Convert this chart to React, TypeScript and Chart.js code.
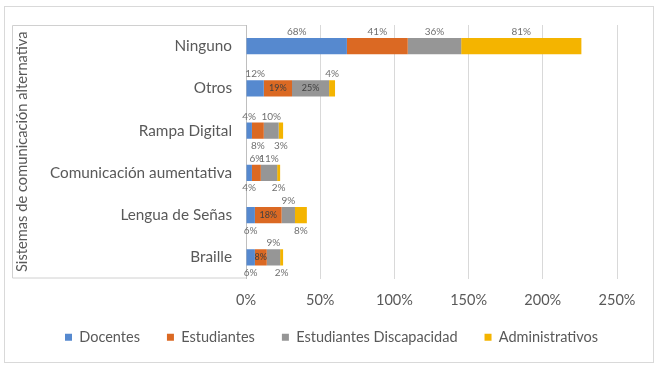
import React, { useEffect, useRef } from 'react';
import { Chart, registerables } from 'chart.js';
Chart.register(...registerables);

const categories = ['Ninguno', 'Otros', 'Rampa Digital', 'Comunicación aumentativa', 'Lengua de Señas', 'Braille'];
const seriesNames = ['Docentes', 'Estudiantes', 'Estudiantes Discapacidad', 'Administrativos'];
const docentes = [68, 12, 4, 4, 6, 6];
const estudiantes = [41, 19, 8, 6, 18, 8];
const estudiantesDiscapacidad = [36, 25, 10, 11, 9, 9];
const administrativos = [81, 4, 3, 2, 8, 2];
const xTickValues = [0, 50, 100, 150, 200, 250];
const axisTitle = 'Sistemas de comunicación alternativa';

// where each data label sits relative to its bar segment
const labelPlacement = [
  ['above', 'above', 'above', 'below', 'below', 'below'],
  ['above', 'center', 'below', 'above', 'center', 'center'],
  ['above', 'center', 'above', 'above', 'above', 'above'],
  ['above', 'above', 'below', 'below', 'below', 'below'],
];

const colors = ['#5689CF', '#DB6923', '#969696', '#F4B400'];
const FONT = 'Lato, "Open Sans", sans-serif';

const framePlugin = {
  id: 'frame',
  afterLayout(chart: any) {
    if (chart.legend) {
      chart.legend.left += 17;
      chart.legend.right += 17;
      chart.legend.top -= 5;
      chart.legend.bottom -= 5;
    }
  },
  beforeDraw(chart: any) {
    const { ctx, chartArea } = chart;
    ctx.save();
    ctx.fillStyle = '#ffffff';
    ctx.fillRect(0, 0, chart.width, chart.height);
    ctx.strokeStyle = '#d9d9d9';
    ctx.lineWidth = 1;
    ctx.strokeRect(4.5, 6.5, 649, 356);
    ctx.strokeStyle = '#d0d0d0';
    ctx.beginPath();
    ctx.moveTo(chartArea.left, chartArea.top + 0.5);
    ctx.lineTo(12.5, chartArea.top + 0.5);
    ctx.lineTo(12.5, chartArea.bottom - 0.5);
    ctx.lineTo(chartArea.left, chartArea.bottom - 0.5);
    ctx.stroke();
    ctx.restore();
  },
};

const labelPlugin = {
  id: 'segLabels',
  afterDatasetsDraw(chart: any) {
    const { ctx } = chart;
    ctx.save();
    ctx.textAlign = 'center';
    ctx.textBaseline = 'middle';
    chart.data.datasets.forEach((ds: any, di: number) => {
      const meta = chart.getDatasetMeta(di);
      meta.data.forEach((el: any, i: number) => {
        const v = ds.data[i];
        const place = labelPlacement[di][i];
        const cx = (el.x + el.base) / 2;
        const h = el.height;
        let y = el.y;
        if (place === 'above') y = el.y - h / 2 - 6;
        if (place === 'below') y = el.y + h / 2 + 7;
        ctx.font = (place === 'center' ? '9px ' : '10px ') + FONT;
        ctx.fillStyle = place === 'center' ? '#404040' : '#707070';
        ctx.fillText(v + '%', cx, y);
      });
    });
    ctx.restore();
  },
};

export default function App() {
  const ref = useRef<HTMLCanvasElement>(null);
  useEffect(() => {
    document.body.style.margin = '0';
    const series = [docentes, estudiantes, estudiantesDiscapacidad, administrativos];
    const chart = new Chart(ref.current as HTMLCanvasElement, {
      type: 'bar',
      data: {
        labels: categories,
        datasets: series.map((d, i) => ({
          label: seriesNames[i],
          data: d,
          backgroundColor: colors[i],
          borderWidth: 0,
          barPercentage: 0.39,
          categoryPercentage: 1,
        })),
      },
      options: {
        indexAxis: 'y',
        animation: false,
        responsive: false,
        devicePixelRatio: 1,
        layout: { padding: { left: 12, right: 45, top: 25, bottom: 9.5 } },
        plugins: {
          tooltip: { enabled: false },
          legend: {
            position: 'bottom',
            labels: {
              boxWidth: 7,
              boxHeight: 7,
              padding: 27,
              color: '#595959',
              font: { family: FONT, size: 14.5 },
            },
          },
        },
        scales: {
          x: {
            stacked: true,
            min: 0,
            max: 250,
            afterBuildTicks(scale: any) {
              scale.ticks = xTickValues.map((v) => ({ value: v }));
            },
            afterFit(scale: any) {
              scale.height = 29.5;
            },
            ticks: {
              padding: 13,
              color: '#595959',
              font: { family: FONT, size: 14.5 },
              callback: (v: any) => v + '%',
            },
            grid: { color: '#d9d9d9', drawTicks: false },
            border: { display: false },
          },
          y: {
            stacked: true,
            afterFit(scale: any) {
              scale.width = 234;
            },
            ticks: {
              padding: 14,
              color: '#595959',
              font: { family: FONT, size: 15.3 },
            },
            grid: { display: false, drawTicks: false },
            border: { display: true, color: '#bfbfbf' },
            title: {
              display: true,
              text: axisTitle,
              color: '#595959',
              font: { family: FONT, size: 14.7 },
              padding: { top: 1.5, bottom: 0 },
            },
          },
        },
      },
      plugins: [framePlugin, labelPlugin],
    } as any);
    return () => chart.destroy();
  }, []);
  return (
    <div style={{ width: 662, height: 369 }}>
      <canvas ref={ref} width={662} height={369} />
    </div>
  );
}
